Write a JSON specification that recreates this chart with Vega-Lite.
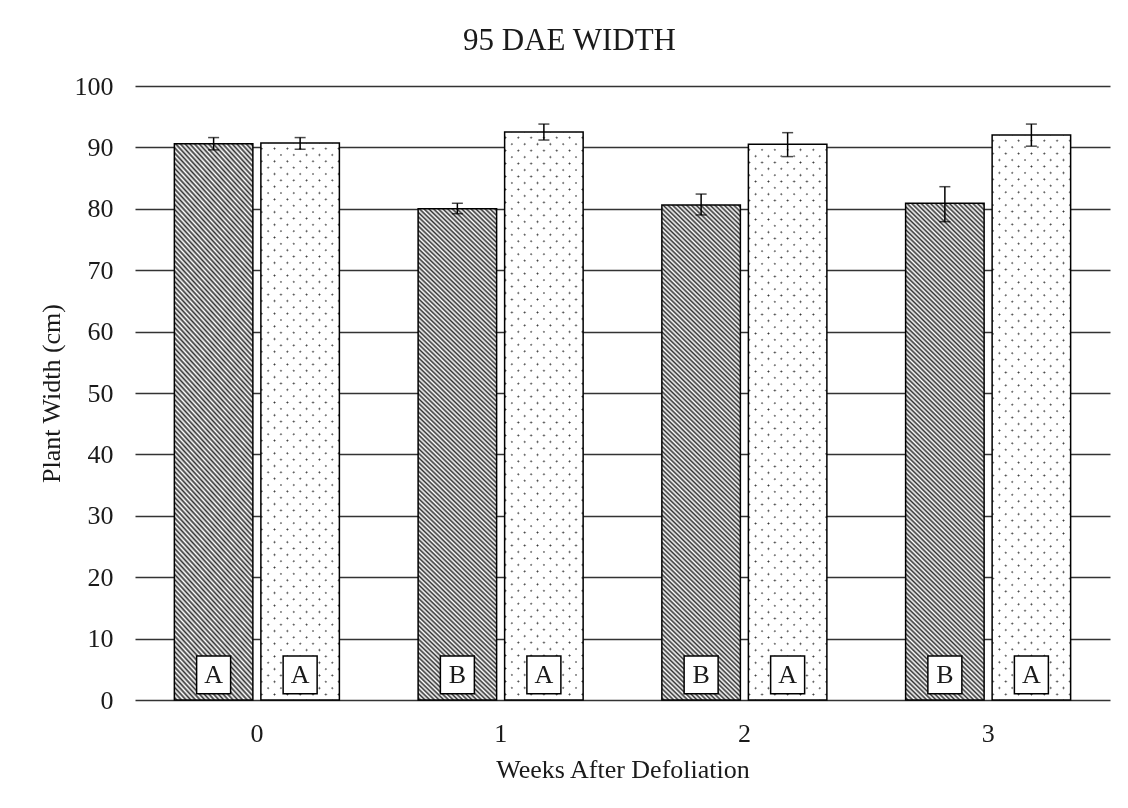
{
"$schema": "https://vega.github.io/schema/vega-lite/v6.json",
"width": 975,
"height": 614,
"autosize": {"type": "none"},
"padding": {"left": 135, "top": 86, "right": 18, "bottom": 108},
"background": "white",
"title": {"text": "95 DAE WIDTH", "font": "Liberation Serif", "fontSize": 31, "fontWeight": "normal", "color": "#1a1a1a", "anchor": "middle", "dx": -53, "offset": 16},
"data": {"values": [
{"week": "0", "trt": "Defoliated", "mean": 90.6, "lo": 89.6, "hi": 91.6, "letter": "A"},
{"week": "0", "trt": "Control", "mean": 90.7, "lo": 89.7, "hi": 91.6, "letter": "A"},
{"week": "1", "trt": "Defoliated", "mean": 80.0, "lo": 79.2, "hi": 80.9, "letter": "B"},
{"week": "1", "trt": "Control", "mean": 92.5, "lo": 91.2, "hi": 93.8, "letter": "A"},
{"week": "2", "trt": "Defoliated", "mean": 80.6, "lo": 79.0, "hi": 82.4, "letter": "B"},
{"week": "2", "trt": "Control", "mean": 90.5, "lo": 88.5, "hi": 92.4, "letter": "A"},
{"week": "3", "trt": "Defoliated", "mean": 80.9, "lo": 77.9, "hi": 83.6, "letter": "B"},
{"week": "3", "trt": "Control", "mean": 92.0, "lo": 90.2, "hi": 93.8, "letter": "A"}
]},
"encoding": {
"x": {"field": "week", "type": "nominal", "scale": {"paddingInner": 0, "paddingOuter": 0},
"axis": {"title": "Weeks After Defoliation", "labelAngle": 0, "domain": false, "ticks": false, "tickSize": 0, "labelPadding": 20, "titlePadding": 10, "grid": false}},
"xOffset": {"field": "trt", "type": "nominal", "scale": {"domain": ["Defoliated", "Control"], "paddingInner": 0.0925, "paddingOuter": 0.455}}
},
"layer": [
{"transform": [{"filter": "datum.trt === 'Defoliated'"}],
"mark": {"type": "bar", "stroke": "#000", "strokeWidth": 1.5, "fill": {"gradient": "linear", "x1": 0, "y1": 1, "x2": 0.174, "y2": -0.128, "stops": [
{"offset":0,"color":"#fff"},{"offset":0.004,"color":"#333"},{"offset":0.008,"color":"#fff"},{"offset":0.012,"color":"#333"},{"offset":0.016,"color":"#fff"},{"offset":0.02,"color":"#333"},{"offset":0.024,"color":"#fff"},{"offset":0.028,"color":"#333"},{"offset":0.032,"color":"#fff"},{"offset":0.036,"color":"#333"},
{"offset":0.04,"color":"#fff"},{"offset":0.044,"color":"#333"},{"offset":0.048,"color":"#fff"},{"offset":0.052,"color":"#333"},{"offset":0.056,"color":"#fff"},{"offset":0.06,"color":"#333"},{"offset":0.064,"color":"#fff"},{"offset":0.068,"color":"#333"},{"offset":0.072,"color":"#fff"},{"offset":0.076,"color":"#333"},
{"offset":0.08,"color":"#fff"},{"offset":0.084,"color":"#333"},{"offset":0.088,"color":"#fff"},{"offset":0.092,"color":"#333"},{"offset":0.096,"color":"#fff"},{"offset":0.1,"color":"#333"},{"offset":0.104,"color":"#fff"},{"offset":0.108,"color":"#333"},{"offset":0.112,"color":"#fff"},{"offset":0.116,"color":"#333"},
{"offset":0.12,"color":"#fff"},{"offset":0.124,"color":"#333"},{"offset":0.128,"color":"#fff"},{"offset":0.132,"color":"#333"},{"offset":0.136,"color":"#fff"},{"offset":0.14,"color":"#333"},{"offset":0.144,"color":"#fff"},{"offset":0.148,"color":"#333"},{"offset":0.152,"color":"#fff"},{"offset":0.156,"color":"#333"},
{"offset":0.16,"color":"#fff"},{"offset":0.164,"color":"#333"},{"offset":0.168,"color":"#fff"},{"offset":0.172,"color":"#333"},{"offset":0.176,"color":"#fff"},{"offset":0.18,"color":"#333"},{"offset":0.184,"color":"#fff"},{"offset":0.188,"color":"#333"},{"offset":0.192,"color":"#fff"},{"offset":0.196,"color":"#333"},
{"offset":0.2,"color":"#fff"},{"offset":0.204,"color":"#333"},{"offset":0.208,"color":"#fff"},{"offset":0.212,"color":"#333"},{"offset":0.216,"color":"#fff"},{"offset":0.22,"color":"#333"},{"offset":0.224,"color":"#fff"},{"offset":0.228,"color":"#333"},{"offset":0.232,"color":"#fff"},{"offset":0.236,"color":"#333"},
{"offset":0.24,"color":"#fff"},{"offset":0.244,"color":"#333"},{"offset":0.248,"color":"#fff"},{"offset":0.252,"color":"#333"},{"offset":0.256,"color":"#fff"},{"offset":0.26,"color":"#333"},{"offset":0.264,"color":"#fff"},{"offset":0.268,"color":"#333"},{"offset":0.272,"color":"#fff"},{"offset":0.276,"color":"#333"},
{"offset":0.28,"color":"#fff"},{"offset":0.284,"color":"#333"},{"offset":0.288,"color":"#fff"},{"offset":0.292,"color":"#333"},{"offset":0.296,"color":"#fff"},{"offset":0.3,"color":"#333"},{"offset":0.304,"color":"#fff"},{"offset":0.308,"color":"#333"},{"offset":0.312,"color":"#fff"},{"offset":0.316,"color":"#333"},
{"offset":0.32,"color":"#fff"},{"offset":0.324,"color":"#333"},{"offset":0.328,"color":"#fff"},{"offset":0.332,"color":"#333"},{"offset":0.336,"color":"#fff"},{"offset":0.34,"color":"#333"},{"offset":0.344,"color":"#fff"},{"offset":0.348,"color":"#333"},{"offset":0.352,"color":"#fff"},{"offset":0.356,"color":"#333"},
{"offset":0.36,"color":"#fff"},{"offset":0.364,"color":"#333"},{"offset":0.368,"color":"#fff"},{"offset":0.372,"color":"#333"},{"offset":0.376,"color":"#fff"},{"offset":0.38,"color":"#333"},{"offset":0.384,"color":"#fff"},{"offset":0.388,"color":"#333"},{"offset":0.392,"color":"#fff"},{"offset":0.396,"color":"#333"},
{"offset":0.4,"color":"#fff"},{"offset":0.404,"color":"#333"},{"offset":0.408,"color":"#fff"},{"offset":0.412,"color":"#333"},{"offset":0.416,"color":"#fff"},{"offset":0.42,"color":"#333"},{"offset":0.424,"color":"#fff"},{"offset":0.428,"color":"#333"},{"offset":0.432,"color":"#fff"},{"offset":0.436,"color":"#333"},
{"offset":0.44,"color":"#fff"},{"offset":0.444,"color":"#333"},{"offset":0.448,"color":"#fff"},{"offset":0.452,"color":"#333"},{"offset":0.456,"color":"#fff"},{"offset":0.46,"color":"#333"},{"offset":0.464,"color":"#fff"},{"offset":0.468,"color":"#333"},{"offset":0.472,"color":"#fff"},{"offset":0.476,"color":"#333"},
{"offset":0.48,"color":"#fff"},{"offset":0.484,"color":"#333"},{"offset":0.488,"color":"#fff"},{"offset":0.492,"color":"#333"},{"offset":0.496,"color":"#fff"},{"offset":0.5,"color":"#333"},{"offset":0.504,"color":"#fff"},{"offset":0.508,"color":"#333"},{"offset":0.512,"color":"#fff"},{"offset":0.516,"color":"#333"},
{"offset":0.52,"color":"#fff"},{"offset":0.524,"color":"#333"},{"offset":0.528,"color":"#fff"},{"offset":0.532,"color":"#333"},{"offset":0.536,"color":"#fff"},{"offset":0.54,"color":"#333"},{"offset":0.544,"color":"#fff"},{"offset":0.548,"color":"#333"},{"offset":0.552,"color":"#fff"},{"offset":0.556,"color":"#333"},
{"offset":0.56,"color":"#fff"},{"offset":0.564,"color":"#333"},{"offset":0.568,"color":"#fff"},{"offset":0.572,"color":"#333"},{"offset":0.576,"color":"#fff"},{"offset":0.58,"color":"#333"},{"offset":0.584,"color":"#fff"},{"offset":0.588,"color":"#333"},{"offset":0.592,"color":"#fff"},{"offset":0.596,"color":"#333"},
{"offset":0.6,"color":"#fff"},{"offset":0.604,"color":"#333"},{"offset":0.608,"color":"#fff"},{"offset":0.612,"color":"#333"},{"offset":0.616,"color":"#fff"},{"offset":0.62,"color":"#333"},{"offset":0.624,"color":"#fff"},{"offset":0.628,"color":"#333"},{"offset":0.632,"color":"#fff"},{"offset":0.636,"color":"#333"},
{"offset":0.64,"color":"#fff"},{"offset":0.644,"color":"#333"},{"offset":0.648,"color":"#fff"},{"offset":0.652,"color":"#333"},{"offset":0.656,"color":"#fff"},{"offset":0.66,"color":"#333"},{"offset":0.664,"color":"#fff"},{"offset":0.668,"color":"#333"},{"offset":0.672,"color":"#fff"},{"offset":0.676,"color":"#333"},
{"offset":0.68,"color":"#fff"},{"offset":0.684,"color":"#333"},{"offset":0.688,"color":"#fff"},{"offset":0.692,"color":"#333"},{"offset":0.696,"color":"#fff"},{"offset":0.7,"color":"#333"},{"offset":0.704,"color":"#fff"},{"offset":0.708,"color":"#333"},{"offset":0.712,"color":"#fff"},{"offset":0.716,"color":"#333"},
{"offset":0.72,"color":"#fff"},{"offset":0.724,"color":"#333"},{"offset":0.728,"color":"#fff"},{"offset":0.732,"color":"#333"},{"offset":0.736,"color":"#fff"},{"offset":0.74,"color":"#333"},{"offset":0.744,"color":"#fff"},{"offset":0.748,"color":"#333"},{"offset":0.752,"color":"#fff"},{"offset":0.756,"color":"#333"},
{"offset":0.76,"color":"#fff"},{"offset":0.764,"color":"#333"},{"offset":0.768,"color":"#fff"},{"offset":0.772,"color":"#333"},{"offset":0.776,"color":"#fff"},{"offset":0.78,"color":"#333"},{"offset":0.784,"color":"#fff"},{"offset":0.788,"color":"#333"},{"offset":0.792,"color":"#fff"},{"offset":0.796,"color":"#333"},
{"offset":0.8,"color":"#fff"},{"offset":0.804,"color":"#333"},{"offset":0.808,"color":"#fff"},{"offset":0.812,"color":"#333"},{"offset":0.816,"color":"#fff"},{"offset":0.82,"color":"#333"},{"offset":0.824,"color":"#fff"},{"offset":0.828,"color":"#333"},{"offset":0.832,"color":"#fff"},{"offset":0.836,"color":"#333"},
{"offset":0.84,"color":"#fff"},{"offset":0.844,"color":"#333"},{"offset":0.848,"color":"#fff"},{"offset":0.852,"color":"#333"},{"offset":0.856,"color":"#fff"},{"offset":0.86,"color":"#333"},{"offset":0.864,"color":"#fff"},{"offset":0.868,"color":"#333"},{"offset":0.872,"color":"#fff"},{"offset":0.876,"color":"#333"},
{"offset":0.88,"color":"#fff"},{"offset":0.884,"color":"#333"},{"offset":0.888,"color":"#fff"},{"offset":0.892,"color":"#333"},{"offset":0.896,"color":"#fff"},{"offset":0.9,"color":"#333"},{"offset":0.904,"color":"#fff"},{"offset":0.908,"color":"#333"},{"offset":0.912,"color":"#fff"},{"offset":0.916,"color":"#333"},
{"offset":0.92,"color":"#fff"},{"offset":0.924,"color":"#333"},{"offset":0.928,"color":"#fff"},{"offset":0.932,"color":"#333"},{"offset":0.936,"color":"#fff"},{"offset":0.94,"color":"#333"},{"offset":0.944,"color":"#fff"},{"offset":0.948,"color":"#333"},{"offset":0.952,"color":"#fff"},{"offset":0.956,"color":"#333"},
{"offset":0.96,"color":"#fff"},{"offset":0.964,"color":"#333"},{"offset":0.968,"color":"#fff"},{"offset":0.972,"color":"#333"},{"offset":0.976,"color":"#fff"},{"offset":0.98,"color":"#333"},{"offset":0.984,"color":"#fff"},{"offset":0.988,"color":"#333"},{"offset":0.992,"color":"#fff"},{"offset":0.996,"color":"#333"},
{"offset":1,"color":"#fff"}
]}},
"encoding": {"y": {"field": "mean", "type": "quantitative", "scale": {"domain": [0, 100], "nice": false},
"axis": {"title": "Plant Width (cm)", "values": [0,10,20,30,40,50,60,70,80,90,100], "domain": false, "ticks": false, "tickSize": 0, "labelPadding": 22, "titlePadding": 10, "grid": true, "gridColor": "#333", "gridWidth": 1.5}}}},
{"transform": [{"filter": "datum.trt === 'Control'"}],
"mark": {"type": "bar", "strokeWidth": 0, "fill": {"gradient": "linear", "x1": 0, "y1": 1, "x2": 0.156, "y2": -0.118, "stops": [
{"offset":0.007,"color":"#fff"},{"offset":0.01,"color":"#333"},{"offset":0.013,"color":"#fff"},{"offset":0.027,"color":"#fff"},{"offset":0.03,"color":"#333"},{"offset":0.033,"color":"#fff"},{"offset":0.047,"color":"#fff"},{"offset":0.05,"color":"#333"},{"offset":0.053,"color":"#fff"},{"offset":0.067,"color":"#fff"},{"offset":0.07,"color":"#333"},{"offset":0.073,"color":"#fff"},{"offset":0.087,"color":"#fff"},{"offset":0.09,"color":"#333"},{"offset":0.093,"color":"#fff"},
{"offset":0.107,"color":"#fff"},{"offset":0.11,"color":"#333"},{"offset":0.113,"color":"#fff"},{"offset":0.127,"color":"#fff"},{"offset":0.13,"color":"#333"},{"offset":0.133,"color":"#fff"},{"offset":0.147,"color":"#fff"},{"offset":0.15,"color":"#333"},{"offset":0.153,"color":"#fff"},{"offset":0.167,"color":"#fff"},{"offset":0.17,"color":"#333"},{"offset":0.173,"color":"#fff"},{"offset":0.187,"color":"#fff"},{"offset":0.19,"color":"#333"},{"offset":0.193,"color":"#fff"},
{"offset":0.207,"color":"#fff"},{"offset":0.21,"color":"#333"},{"offset":0.213,"color":"#fff"},{"offset":0.227,"color":"#fff"},{"offset":0.23,"color":"#333"},{"offset":0.233,"color":"#fff"},{"offset":0.247,"color":"#fff"},{"offset":0.25,"color":"#333"},{"offset":0.253,"color":"#fff"},{"offset":0.267,"color":"#fff"},{"offset":0.27,"color":"#333"},{"offset":0.273,"color":"#fff"},{"offset":0.287,"color":"#fff"},{"offset":0.29,"color":"#333"},{"offset":0.293,"color":"#fff"},
{"offset":0.307,"color":"#fff"},{"offset":0.31,"color":"#333"},{"offset":0.313,"color":"#fff"},{"offset":0.327,"color":"#fff"},{"offset":0.33,"color":"#333"},{"offset":0.333,"color":"#fff"},{"offset":0.347,"color":"#fff"},{"offset":0.35,"color":"#333"},{"offset":0.353,"color":"#fff"},{"offset":0.367,"color":"#fff"},{"offset":0.37,"color":"#333"},{"offset":0.373,"color":"#fff"},{"offset":0.387,"color":"#fff"},{"offset":0.39,"color":"#333"},{"offset":0.393,"color":"#fff"},
{"offset":0.407,"color":"#fff"},{"offset":0.41,"color":"#333"},{"offset":0.413,"color":"#fff"},{"offset":0.427,"color":"#fff"},{"offset":0.43,"color":"#333"},{"offset":0.433,"color":"#fff"},{"offset":0.447,"color":"#fff"},{"offset":0.45,"color":"#333"},{"offset":0.453,"color":"#fff"},{"offset":0.467,"color":"#fff"},{"offset":0.47,"color":"#333"},{"offset":0.473,"color":"#fff"},{"offset":0.487,"color":"#fff"},{"offset":0.49,"color":"#333"},{"offset":0.493,"color":"#fff"},
{"offset":0.507,"color":"#fff"},{"offset":0.51,"color":"#333"},{"offset":0.513,"color":"#fff"},{"offset":0.527,"color":"#fff"},{"offset":0.53,"color":"#333"},{"offset":0.533,"color":"#fff"},{"offset":0.547,"color":"#fff"},{"offset":0.55,"color":"#333"},{"offset":0.553,"color":"#fff"},{"offset":0.567,"color":"#fff"},{"offset":0.57,"color":"#333"},{"offset":0.573,"color":"#fff"},{"offset":0.587,"color":"#fff"},{"offset":0.59,"color":"#333"},{"offset":0.593,"color":"#fff"},
{"offset":0.607,"color":"#fff"},{"offset":0.61,"color":"#333"},{"offset":0.613,"color":"#fff"},{"offset":0.627,"color":"#fff"},{"offset":0.63,"color":"#333"},{"offset":0.633,"color":"#fff"},{"offset":0.647,"color":"#fff"},{"offset":0.65,"color":"#333"},{"offset":0.653,"color":"#fff"},{"offset":0.667,"color":"#fff"},{"offset":0.67,"color":"#333"},{"offset":0.673,"color":"#fff"},{"offset":0.687,"color":"#fff"},{"offset":0.69,"color":"#333"},{"offset":0.693,"color":"#fff"},
{"offset":0.707,"color":"#fff"},{"offset":0.71,"color":"#333"},{"offset":0.713,"color":"#fff"},{"offset":0.727,"color":"#fff"},{"offset":0.73,"color":"#333"},{"offset":0.733,"color":"#fff"},{"offset":0.747,"color":"#fff"},{"offset":0.75,"color":"#333"},{"offset":0.753,"color":"#fff"},{"offset":0.767,"color":"#fff"},{"offset":0.77,"color":"#333"},{"offset":0.773,"color":"#fff"},{"offset":0.787,"color":"#fff"},{"offset":0.79,"color":"#333"},{"offset":0.793,"color":"#fff"},
{"offset":0.807,"color":"#fff"},{"offset":0.81,"color":"#333"},{"offset":0.813,"color":"#fff"},{"offset":0.827,"color":"#fff"},{"offset":0.83,"color":"#333"},{"offset":0.833,"color":"#fff"},{"offset":0.847,"color":"#fff"},{"offset":0.85,"color":"#333"},{"offset":0.853,"color":"#fff"},{"offset":0.867,"color":"#fff"},{"offset":0.87,"color":"#333"},{"offset":0.873,"color":"#fff"},{"offset":0.887,"color":"#fff"},{"offset":0.89,"color":"#333"},{"offset":0.893,"color":"#fff"},
{"offset":0.907,"color":"#fff"},{"offset":0.91,"color":"#333"},{"offset":0.913,"color":"#fff"},{"offset":0.927,"color":"#fff"},{"offset":0.93,"color":"#333"},{"offset":0.933,"color":"#fff"},{"offset":0.947,"color":"#fff"},{"offset":0.95,"color":"#333"},{"offset":0.953,"color":"#fff"},{"offset":0.967,"color":"#fff"},{"offset":0.97,"color":"#333"},{"offset":0.973,"color":"#fff"},{"offset":0.987,"color":"#fff"},{"offset":0.99,"color":"#333"},{"offset":0.993,"color":"#fff"}
]}},
"encoding": {"y": {"field": "mean", "type": "quantitative"}}},
{"transform": [{"filter": "datum.trt === 'Control'"}],
"mark": {"type": "bar", "strokeWidth": 0, "blend": "lighten", "fill": {"gradient": "linear", "x1": 0, "y1": 0, "x2": 0.156, "y2": 1.118, "stops": [
{"offset":0.007,"color":"#fff"},{"offset":0.01,"color":"#333"},{"offset":0.013,"color":"#fff"},{"offset":0.027,"color":"#fff"},{"offset":0.03,"color":"#333"},{"offset":0.033,"color":"#fff"},{"offset":0.047,"color":"#fff"},{"offset":0.05,"color":"#333"},{"offset":0.053,"color":"#fff"},{"offset":0.067,"color":"#fff"},{"offset":0.07,"color":"#333"},{"offset":0.073,"color":"#fff"},{"offset":0.087,"color":"#fff"},{"offset":0.09,"color":"#333"},{"offset":0.093,"color":"#fff"},
{"offset":0.107,"color":"#fff"},{"offset":0.11,"color":"#333"},{"offset":0.113,"color":"#fff"},{"offset":0.127,"color":"#fff"},{"offset":0.13,"color":"#333"},{"offset":0.133,"color":"#fff"},{"offset":0.147,"color":"#fff"},{"offset":0.15,"color":"#333"},{"offset":0.153,"color":"#fff"},{"offset":0.167,"color":"#fff"},{"offset":0.17,"color":"#333"},{"offset":0.173,"color":"#fff"},{"offset":0.187,"color":"#fff"},{"offset":0.19,"color":"#333"},{"offset":0.193,"color":"#fff"},
{"offset":0.207,"color":"#fff"},{"offset":0.21,"color":"#333"},{"offset":0.213,"color":"#fff"},{"offset":0.227,"color":"#fff"},{"offset":0.23,"color":"#333"},{"offset":0.233,"color":"#fff"},{"offset":0.247,"color":"#fff"},{"offset":0.25,"color":"#333"},{"offset":0.253,"color":"#fff"},{"offset":0.267,"color":"#fff"},{"offset":0.27,"color":"#333"},{"offset":0.273,"color":"#fff"},{"offset":0.287,"color":"#fff"},{"offset":0.29,"color":"#333"},{"offset":0.293,"color":"#fff"},
{"offset":0.307,"color":"#fff"},{"offset":0.31,"color":"#333"},{"offset":0.313,"color":"#fff"},{"offset":0.327,"color":"#fff"},{"offset":0.33,"color":"#333"},{"offset":0.333,"color":"#fff"},{"offset":0.347,"color":"#fff"},{"offset":0.35,"color":"#333"},{"offset":0.353,"color":"#fff"},{"offset":0.367,"color":"#fff"},{"offset":0.37,"color":"#333"},{"offset":0.373,"color":"#fff"},{"offset":0.387,"color":"#fff"},{"offset":0.39,"color":"#333"},{"offset":0.393,"color":"#fff"},
{"offset":0.407,"color":"#fff"},{"offset":0.41,"color":"#333"},{"offset":0.413,"color":"#fff"},{"offset":0.427,"color":"#fff"},{"offset":0.43,"color":"#333"},{"offset":0.433,"color":"#fff"},{"offset":0.447,"color":"#fff"},{"offset":0.45,"color":"#333"},{"offset":0.453,"color":"#fff"},{"offset":0.467,"color":"#fff"},{"offset":0.47,"color":"#333"},{"offset":0.473,"color":"#fff"},{"offset":0.487,"color":"#fff"},{"offset":0.49,"color":"#333"},{"offset":0.493,"color":"#fff"},
{"offset":0.507,"color":"#fff"},{"offset":0.51,"color":"#333"},{"offset":0.513,"color":"#fff"},{"offset":0.527,"color":"#fff"},{"offset":0.53,"color":"#333"},{"offset":0.533,"color":"#fff"},{"offset":0.547,"color":"#fff"},{"offset":0.55,"color":"#333"},{"offset":0.553,"color":"#fff"},{"offset":0.567,"color":"#fff"},{"offset":0.57,"color":"#333"},{"offset":0.573,"color":"#fff"},{"offset":0.587,"color":"#fff"},{"offset":0.59,"color":"#333"},{"offset":0.593,"color":"#fff"},
{"offset":0.607,"color":"#fff"},{"offset":0.61,"color":"#333"},{"offset":0.613,"color":"#fff"},{"offset":0.627,"color":"#fff"},{"offset":0.63,"color":"#333"},{"offset":0.633,"color":"#fff"},{"offset":0.647,"color":"#fff"},{"offset":0.65,"color":"#333"},{"offset":0.653,"color":"#fff"},{"offset":0.667,"color":"#fff"},{"offset":0.67,"color":"#333"},{"offset":0.673,"color":"#fff"},{"offset":0.687,"color":"#fff"},{"offset":0.69,"color":"#333"},{"offset":0.693,"color":"#fff"},
{"offset":0.707,"color":"#fff"},{"offset":0.71,"color":"#333"},{"offset":0.713,"color":"#fff"},{"offset":0.727,"color":"#fff"},{"offset":0.73,"color":"#333"},{"offset":0.733,"color":"#fff"},{"offset":0.747,"color":"#fff"},{"offset":0.75,"color":"#333"},{"offset":0.753,"color":"#fff"},{"offset":0.767,"color":"#fff"},{"offset":0.77,"color":"#333"},{"offset":0.773,"color":"#fff"},{"offset":0.787,"color":"#fff"},{"offset":0.79,"color":"#333"},{"offset":0.793,"color":"#fff"},
{"offset":0.807,"color":"#fff"},{"offset":0.81,"color":"#333"},{"offset":0.813,"color":"#fff"},{"offset":0.827,"color":"#fff"},{"offset":0.83,"color":"#333"},{"offset":0.833,"color":"#fff"},{"offset":0.847,"color":"#fff"},{"offset":0.85,"color":"#333"},{"offset":0.853,"color":"#fff"},{"offset":0.867,"color":"#fff"},{"offset":0.87,"color":"#333"},{"offset":0.873,"color":"#fff"},{"offset":0.887,"color":"#fff"},{"offset":0.89,"color":"#333"},{"offset":0.893,"color":"#fff"},
{"offset":0.907,"color":"#fff"},{"offset":0.91,"color":"#333"},{"offset":0.913,"color":"#fff"},{"offset":0.927,"color":"#fff"},{"offset":0.93,"color":"#333"},{"offset":0.933,"color":"#fff"},{"offset":0.947,"color":"#fff"},{"offset":0.95,"color":"#333"},{"offset":0.953,"color":"#fff"},{"offset":0.967,"color":"#fff"},{"offset":0.97,"color":"#333"},{"offset":0.973,"color":"#fff"},{"offset":0.987,"color":"#fff"},{"offset":0.99,"color":"#333"},{"offset":0.993,"color":"#fff"}
]}},
"encoding": {"y": {"field": "mean", "type": "quantitative"}}},
{"transform": [{"filter": "datum.trt === 'Control'"}],
"mark": {"type": "bar", "fillOpacity": 0, "stroke": "#000", "strokeWidth": 1.5},
"encoding": {"y": {"field": "mean", "type": "quantitative"}}},
{"mark": {"type": "rule", "color": "#000", "strokeWidth": 1.5},
"encoding": {"y": {"field": "lo", "type": "quantitative"}, "y2": {"field": "hi"}}},
{"mark": {"type": "tick", "color": "#000", "size": 11, "thickness": 1.5},
"encoding": {"y": {"field": "hi", "type": "quantitative"}}},
{"mark": {"type": "tick", "color": "#000", "size": 11, "thickness": 1.5},
"encoding": {"y": {"field": "lo", "type": "quantitative"}}},
{"mark": {"type": "bar", "width": 34, "fill": "#fff", "stroke": "#000", "strokeWidth": 1.5},
"encoding": {"y": {"datum": 1.0, "type": "quantitative"}, "y2": {"datum": 7.15}}},
{"mark": {"type": "text", "font": "Liberation Serif", "fontSize": 26, "color": "#1a1a1a", "baseline": "middle", "align": "center"},
"encoding": {"y": {"datum": 4.1, "type": "quantitative"}, "text": {"field": "letter"}}}
],
"config": {
"view": {"stroke": null},
"title": {"font": "Liberation Serif", "fontWeight": "normal"},
"axis": {"labelFont": "Liberation Serif", "labelFontSize": 26, "labelColor": "#1a1a1a", "titleFont": "Liberation Serif", "titleFontSize": 26, "titleFontWeight": "normal", "titleColor": "#1a1a1a"}
}
}
